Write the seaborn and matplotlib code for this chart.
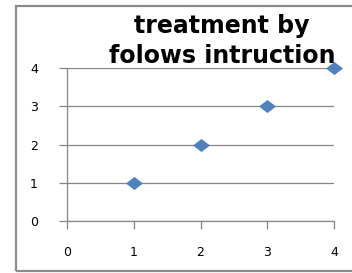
import matplotlib
matplotlib.use('Agg')
import matplotlib.pyplot as plt
import matplotlib.patches as mpatches
from matplotlib.path import Path
import seaborn as sns
import pandas as pd

# ---- data ----
x_vals = [1, 2, 3, 4]
y_vals = [1, 2, 3, 4]
ticks = [0, 1, 2, 3, 4]
title = 'treatment by\nfolows intruction'

GRAY = '#868686'
BLUE = '#4F81BD'

sns.set_theme(style='white')
plt.rcParams['font.family'] = ['DejaVu Sans']

df = pd.DataFrame({'x': x_vals, 'y': y_vals})

fig = plt.figure(figsize=(3.52, 2.73), dpi=100)
fig.patch.set_facecolor('white')

# chart border (excel chart area)
fig.patches.append(mpatches.Rectangle((15.5 / 352, 2.5 / 273), 1.0, 264.5 / 273,
                                      transform=fig.transFigure, fill=False,
                                      edgecolor='#8c8c8c', linewidth=1.6))

ax = fig.add_axes([67 / 352, 52 / 273, 267 / 352, 153 / 273])

# wide diamond like excel
diamond = Path([(-1.3, 0), (0, 1), (1.3, 0), (0, -1), (-1.3, 0)],
               [Path.MOVETO, Path.LINETO, Path.LINETO, Path.LINETO, Path.CLOSEPOLY])
sns.scatterplot(data=df, x='x', y='y', ax=ax, marker=diamond, s=150,
                color=BLUE, edgecolor=BLUE, linewidth=0, clip_on=False, zorder=3)

ax.set_xlim(0, 4)
ax.set_ylim(0, 4)
ax.set_xticks(ticks)
ax.set_yticks(ticks)
ax.set_xlabel('')
ax.set_ylabel('')
ax.yaxis.grid(True, color=GRAY, linewidth=0.9)
ax.set_axisbelow(True)
for s in ['top', 'right']:
    ax.spines[s].set_visible(False)
for s in ['left', 'bottom']:
    ax.spines[s].set_color(GRAY)
    ax.spines[s].set_linewidth(0.9)
ax.tick_params(axis='both', which='both', direction='out', length=6, width=0.9,
               color=GRAY, labelsize=9, labelcolor='black')
ax.tick_params(axis='y', pad=15, left=True)
ax.tick_params(axis='x', pad=12, bottom=True)

fig.text(222 / 352, 1 - 63 / 273, title, ha='center', va='baseline',
         fontsize=17, fontweight='bold', linespacing=1.3, color='black')

fig.savefig('out.png', dpi=100, facecolor='white')
